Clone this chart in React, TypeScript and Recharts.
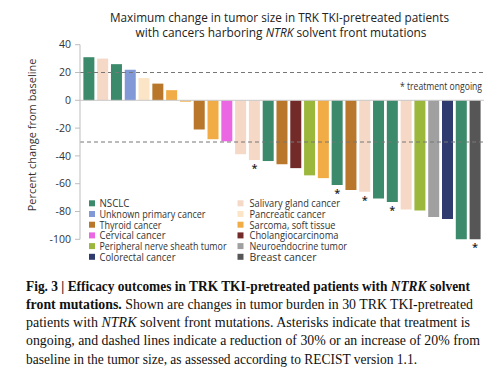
import React from 'react';
import { BarChart, Bar, XAxis, YAxis, Cell, ReferenceLine, LabelList } from 'recharts';

const categories = [
  'NSCLC', 'Unknown primary cancer', 'Thyroid cancer', 'Cervical cancer',
  'Peripheral nerve sheath tumor', 'Colorectal cancer', 'Salivary gland cancer',
  'Pancreatic cancer', 'Sarcoma, soft tissue', 'Cholangiocarcinoma',
  'Neuroendocrine tumor', 'Breast cancer',
];
const categoryColors = [
  '#3b8a6b', '#8199d6', '#b8772b', '#ea66e2', '#9bb73c', '#2f3b6f',
  '#f6d8c7', '#fbe5c6', '#f1ac46', '#722b29', '#a0a0a0', '#565656',
];

const patientCancer = [
  'NSCLC', 'Salivary gland cancer', 'NSCLC', 'Unknown primary cancer', 'Pancreatic cancer',
  'Thyroid cancer', 'Sarcoma, soft tissue', 'Sarcoma, soft tissue', 'Thyroid cancer',
  'Sarcoma, soft tissue', 'Cervical cancer', 'Salivary gland cancer', 'Salivary gland cancer',
  'NSCLC', 'Thyroid cancer', 'Cholangiocarcinoma', 'Peripheral nerve sheath tumor',
  'Sarcoma, soft tissue', 'NSCLC', 'Thyroid cancer', 'Salivary gland cancer', 'NSCLC',
  'NSCLC', 'Salivary gland cancer', 'Peripheral nerve sheath tumor', 'Neuroendocrine tumor',
  'Colorectal cancer', 'NSCLC', 'Breast cancer',
];
const changeValues = [
  31, 30, 26, 22, 16, 12, 7.3, -1, -21, -28, -29.5, -38.8, -43, -43.7, -46, -48.8,
  -54, -56, -61, -64.6, -65.8, -70.7, -73.2, -78.5, -79.3, -83.9, -85.4, -100, -100,
];
const ongoing = [
  false, false, false, false, false, false, false, false, false, false, false, false, true,
  false, false, false, false, false, true, false, true, false, true, false, false, false,
  false, false, true,
];
const yTicks = [40, 20, 0, -20, -40, -60, -80, -100];

const data = changeValues.map((v, i) => ({
  id: `P${i + 1}`,
  value: v,
  cancer: patientCancer[i],
  mark: ongoing[i] ? '*' : '',
}));

const colorOf = (c: string) => categoryColors[categories.indexOf(c)];

const SANS = '"Open Sans", sans-serif';
const SERIF = '"Liberation Serif", serif';

const Asterisk = (props: any) => {
  const { x, y, width, height, value } = props;
  if (!value) return null;
  const bottom = Math.max(Number(y), Number(y) + Number(height));
  return (
    <text x={Number(x) + Number(width) / 2} y={bottom + 12} textAnchor="middle"
      fontFamily={SANS} fontSize={11} fontWeight={600} fill="#222">*</text>
  );
};

const legendTextLen = [30, 106, 62, 66, 127, 76, 90.5, 76, 86, 89, 97.5, 67];

export default function App() {
  const rows = [0, 1, 2, 3, 4, 5];
  return (
    <div style={{ position: 'absolute', left: 0, top: 0, width: 500, height: 376, background: '#fff', overflow: 'hidden' }}>
      <BarChart width={500} height={376} data={data}
        margin={{ top: 44.7, right: 16, bottom: 136.7, left: 0 }} barCategoryGap="10%">
        <XAxis dataKey="id" hide padding={{ left: 2, right: 2 }} />
        <YAxis domain={[-100, 40]} ticks={yTicks} interval={0} width={80}
          axisLine={{ stroke: '#bdbdbd' }} tickLine={{ stroke: '#bdbdbd' }} tickSize={5} tickMargin={4}
          tick={{ fontFamily: SANS, fontSize: 10.5, fill: '#333' }}
          label={{ value: 'Percent change from baseline', angle: -90, position: 'center', dx: -8, dy: -7,
            style: { fontFamily: SANS, fontSize: 11, fill: '#333', textAnchor: 'middle' } }} />
        <ReferenceLine y={0} stroke="#c8c8c8" strokeWidth={1} />
        <Bar dataKey="value" isAnimationActive={false}>
          {data.map((d) => (
            <Cell key={d.id} fill={colorOf(d.cancer)} />
          ))}
          <LabelList dataKey="mark" content={Asterisk} />
        </Bar>
        <ReferenceLine y={20} stroke="#777" strokeDasharray="4 3" strokeWidth={1} />
        <ReferenceLine y={-30} stroke="#777" strokeDasharray="4 3" strokeWidth={1} />
      </BarChart>
      <svg width={500} height={376} style={{ position: 'absolute', left: 0, top: 0, pointerEvents: 'none' }}>
        <text x={279.5} y={22} textAnchor="middle" fontFamily={SANS} fontSize={12} fill="#222"
          textLength={339} lengthAdjust="spacingAndGlyphs">Maximum change in tumor size in TRK TKI-pretreated patients</text>
        <text x={281} y={36.5} textAnchor="middle" fontFamily={SANS} fontSize={12} fill="#222"
          textLength={291} lengthAdjust="spacingAndGlyphs">with cancers harboring <tspan fontStyle="italic">NTRK</tspan> solvent front mutations</text>
        <text x={400} y={89.5} fontFamily={SANS} fontSize={10.5} fill="#333"
          textLength={82} lengthAdjust="spacingAndGlyphs">* treatment ongoing</text>
        {rows.map((r) => (
          <g key={r}>
            <rect x={89} y={200.3 + r * 10.7} width={6} height={6} fill={categoryColors[r]} />
            <text x={99.5} y={207.2 + r * 10.7} fontFamily={SANS} fontSize={10} fill="#333"
              textLength={legendTextLen[r]} lengthAdjust="spacingAndGlyphs">{categories[r]}</text>
            <rect x={237.5} y={200.3 + r * 10.7} width={6} height={6} fill={categoryColors[r + 6]} />
            <text x={249.5} y={207.2 + r * 10.7} fontFamily={SANS} fontSize={10} fill="#333"
              textLength={legendTextLen[r + 6]} lengthAdjust="spacingAndGlyphs">{categories[r + 6]}</text>
          </g>
        ))}
        <g fontFamily={SERIF} fontSize={15} fill="#111">
          <text x={26} y={290.5} fontWeight="bold" textLength={444} lengthAdjust="spacingAndGlyphs">Fig. 3 | Efficacy outcomes in TRK TKI-pretreated patients with <tspan fontStyle="italic">NTRK</tspan> solvent</text>
          <text x={26} y={308.8} textLength={447} lengthAdjust="spacingAndGlyphs"><tspan fontWeight="bold">front mutations.</tspan> Shown are changes in tumor burden in 30 TRK TKI-pretreated</text>
          <text x={26} y={327.1} textLength={444} lengthAdjust="spacingAndGlyphs">patients with <tspan fontStyle="italic">NTRK</tspan> solvent front mutations. Asterisks indicate that treatment is</text>
          <text x={26} y={345.4} textLength={454} lengthAdjust="spacingAndGlyphs">ongoing, and dashed lines indicate a reduction of 30% or an increase of 20% from</text>
          <text x={26} y={363.7} textLength={391} lengthAdjust="spacingAndGlyphs">baseline in the tumor size, as assessed according to RECIST version 1.1.</text>
        </g>
      </svg>
    </div>
  );
}
